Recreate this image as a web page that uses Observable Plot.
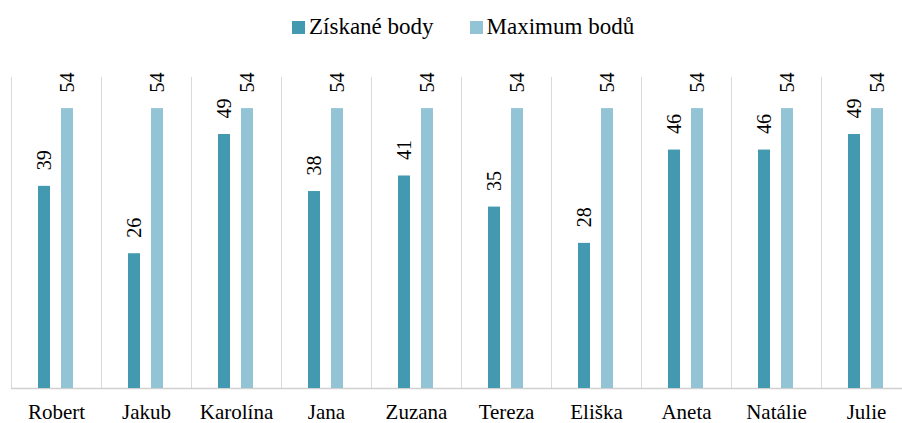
<!DOCTYPE html>
<html><head><meta charset="utf-8">
<script src="https://cdn.jsdelivr.net/npm/d3@7"></script>
<script src="https://cdn.jsdelivr.net/npm/@observablehq/plot@0.6"></script>
<style>
body{margin:0;background:#fff;overflow:hidden;}
#legend{height:50px;display:flex;align-items:center;padding-left:292px;padding-top:4px;font-family:'Liberation Serif',serif;font-size:23px;color:#000;box-sizing:border-box;}
.item{display:flex;align-items:center;margin-right:36px}
.sw{width:13px;height:13px;margin-right:4px}
</style></head><body>
<div id="legend"></div>
<div id="chart"></div>
<script>
const names = ["Robert","Jakub","Karolína","Jana","Zuzana","Tereza","Eliška","Aneta","Natálie","Julie"];
const ziskane = [39,26,49,38,41,35,28,46,46,49];
const maximum = [54,54,54,54,54,54,54,54,54,54];
const seriesNames = ["Získané body","Maximum bodů"];
const colors = ["#4399AF","#93C4D5"];

const data = names.flatMap((n,i)=>[
  {name:n, series:seriesNames[0], value:ziskane[i]},
  {name:n, series:seriesNames[1], value:maximum[i]}
]);

const legend = document.getElementById("legend");
seriesNames.forEach((s,i)=>{
  const it = document.createElement("div"); it.className="item";
  const sw = document.createElement("div"); sw.className="sw"; sw.style.background=colors[i];
  const t = document.createElement("span"); t.textContent=s; t.style.fontFamily="'Liberation Serif', serif";
  it.appendChild(sw); it.appendChild(t); legend.appendChild(it);
});

const chart = Plot.plot({
  width:902, height:373, marginTop:27, marginBottom:35, marginLeft:10, marginRight:0,
  style:{fontFamily:"'Liberation Serif', serif", fontSize:"21px", color:"#000", background:"#fff", overflow:"visible"},
  fx:{domain:names, range:[10,912], padding:0, label:null, axis:"bottom", tickSize:0, tickPadding:16, fontSize:21},
  x:{domain:seriesNames, paddingInner:0.47, paddingOuter:1.15, axis:null},
  y:{domain:[0,60], axis:null},
  color:{domain:seriesNames, range:colors},
  marks:[
    Plot.frame({anchor:"left", stroke:"#d9d9d9", strokeOpacity:1}),
    Plot.ruleY([0], {stroke:"#d0d0d0", strokeWidth:1.5}),
    Plot.barY(data, {fx:"name", x:"series", y:"value", fill:"series"}),
    Plot.text(data, {fx:"name", x:"series", y:"value", text:"value", rotate:-90, textAnchor:"start", dy:-16, fontSize:20, fontFamily:"'Liberation Serif', serif", fill:"#000"})
  ]
});
document.getElementById("chart").appendChild(chart);
</script>
</body></html>
